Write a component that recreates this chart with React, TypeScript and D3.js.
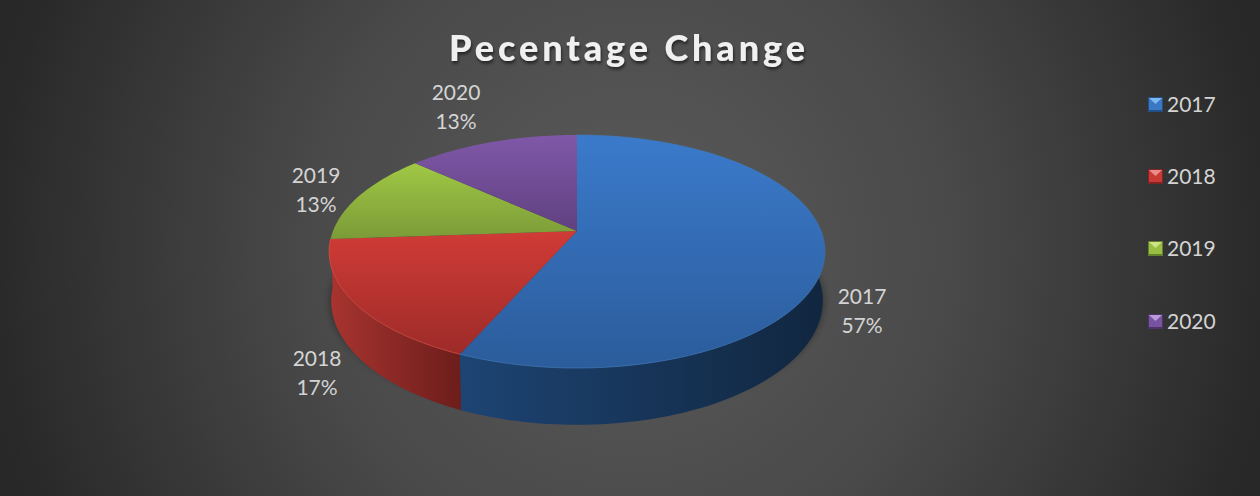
import React from "react";
import * as d3 from "d3";

const categories = ["2017", "2018", "2019", "2020"];
const values = [56.6, 17.3, 12.8, 13.3];
const percentLabels = ["57%", "17%", "13%", "13%"];
const titleText = "Pecentage Change";
const topColors = [["#3b7acb", "#2b5c9b"], ["#d03b36", "#9d2b29"], ["#a0c844", "#7b9a38"], ["#7f58a8", "#5e3e7c"]];
const wallColors = [["#1d4473", "#11263f"], ["#a8342f", "#6c1d1b"]];
const legendColors = [["#3a78c4", "#234f87", "#7db8ee"], ["#c93a35", "#7f2422", "#ea8d88"], ["#98be42", "#64802c", "#cde582"], ["#7853a0", "#4d3368", "#b89bd8"]];
const labelPos = [[862, 296], [317, 358], [316, 175], [456, 92]];
const legendRows = [104, 176, 248, 321];

const W = 1260, H = 496, cx = 577, cy = 231, R = 244, A = 112.9, k = -0.176, depth = 48;
const TAU = Math.PI * 2;

const pieGen = d3.pie<number>().sort(null).value((d) => d);
const arcs = pieGen(values);

// perspective projection of a unit-circle angle (clockwise from the back)
const project = (t: number, r = 1, drop = 0): [number, number] => {
  const x = Math.sin(t) * r, z = -Math.cos(t) * r;
  const f = 1 / (1 + k * z);
  return [cx + R * x * f, cy + A * z * f + drop * f];
};
const samples = (a: number, b: number) => {
  const n = Math.max(2, Math.ceil(((b - a) / TAU) * 240));
  return d3.range(n + 1).map((i) => a + ((b - a) * i) / n);
};
const line = d3.line<[number, number]>().x((d) => d[0]).y((d) => d[1]);
const topPath = (a: number, b: number) => line([[cx, cy], ...samples(a, b).map((t) => project(t))])! + "Z";
const wallPath = (a: number, b: number) => {
  const s = samples(a, b);
  return line([...s.map((t) => project(t)), ...s.slice().reverse().map((t) => project(t, 0.992, depth))])! + "Z";
};
const rimPath = (a: number, b: number) => line(samples(a, b).map((t) => project(t)))!;
const halfTurn = Math.PI / 2;

export default function App() {
  return (
    <svg width={W} height={H} viewBox={`0 0 ${W} ${H}`} style={{ position: "absolute", left: 0, top: 0, display: "block" }}>
      <defs>
        <radialGradient id="bg" gradientUnits="userSpaceOnUse" cx={630} cy={248} r={650}>
          <stop offset="0" stopColor="#5b5b5b" />
          <stop offset="0.5" stopColor="#494949" />
          <stop offset="1" stopColor="#282828" />
        </radialGradient>
        <filter id="sh" x="-10%" y="-10%" width="120%" height="130%">
          <feGaussianBlur stdDeviation="3" />
        </filter>
        <filter id="ts" x="-5%" y="-20%" width="110%" height="150%">
          <feDropShadow dx="1" dy="2.5" stdDeviation="1.6" floodColor="#000" floodOpacity="0.55" />
        </filter>
        {arcs.map((_, i) => (
          <linearGradient key={i} id={`top${i}`} gradientUnits="userSpaceOnUse" x1={0} x2={0}
            y1={i === 0 ? 135 : i === 1 ? 232 : i === 2 ? 163 : 135}
            y2={i === 0 ? 368 : i === 1 ? 354 : 240}>
            <stop offset="0" stopColor={topColors[i][0]} />
            <stop offset="1" stopColor={topColors[i][1]} />
          </linearGradient>
        ))}
        <linearGradient id="wall0" gradientUnits="userSpaceOnUse" x1={460} x2={825} y1={0} y2={0}>
          <stop offset="0" stopColor={wallColors[0][0]} />
          <stop offset="1" stopColor={wallColors[0][1]} />
        </linearGradient>
        <linearGradient id="wall1" gradientUnits="userSpaceOnUse" x1={330} x2={462} y1={0} y2={0}>
          <stop offset="0" stopColor={wallColors[1][0]} />
          <stop offset="1" stopColor={wallColors[1][1]} />
        </linearGradient>
      </defs>
      <rect width={W} height={H} fill="url(#bg)" />

      {/* soft shadow below the pie */}
      <path d={topPath(0, TAU)} transform="translate(0 50)" fill="#000" opacity={0.28} filter="url(#sh)" />

      {/* side walls, only the visible front half */}
      <path d={wallPath(halfTurn - 0.18, arcs[0].endAngle)} fill="url(#wall0)" />
      <path d={wallPath(arcs[1].startAngle, Math.min(arcs[1].endAngle, TAU * 0.75 + 0.18))} fill="url(#wall1)" />

      {/* top faces */}
      {arcs.map((a, i) => (
        <path key={i} d={topPath(a.startAngle, a.endAngle)} fill={`url(#top${i})`} />
      ))}
      {arcs.slice(0, 2).map((a, i) => (
        <path key={i} d={rimPath(a.startAngle, a.endAngle)} fill="none"
          stroke={i === 0 ? "#3f79ba" : "#dd4f48"} strokeWidth={1} opacity={0.7} />
      ))}

      <text x={629} y={61} textAnchor="middle" fill="#f0f0f0" fontFamily="Lato, sans-serif" fontWeight={900}
        fontSize={36} letterSpacing={3.9} filter="url(#ts)">{titleText}</text>

      {categories.map((c, i) => (
        <text key={c} textAnchor="middle" fill="#d4d4d4" fontFamily="Lato, sans-serif" fontSize={21}>
          <tspan x={labelPos[i][0]} y={labelPos[i][1] + 8}>{c}</tspan>
          <tspan x={labelPos[i][0]} y={labelPos[i][1] + 37}>{percentLabels[i]}</tspan>
        </text>
      ))}

      {categories.map((c, i) => {
        const y = legendRows[i];
        const x = 1148;
        const [c1, c2, c3] = legendColors[i];
        return (
          <g key={c}>
            <rect x={x} y={y - 7} width={15} height={15} fill={c2} />
            <rect x={x + 1} y={y - 6} width={13} height={12} fill={c1} />
            <polygon points={`${x + 1},${y - 6} ${x + 14},${y - 6} ${x + 7.5},${y}`} fill={c3} />
            <text x={1167} y={y + 8} fill="#d4d4d4" fontFamily="Lato, sans-serif" fontSize={21}>{c}</text>
          </g>
        );
      })}
    </svg>
  );
}
